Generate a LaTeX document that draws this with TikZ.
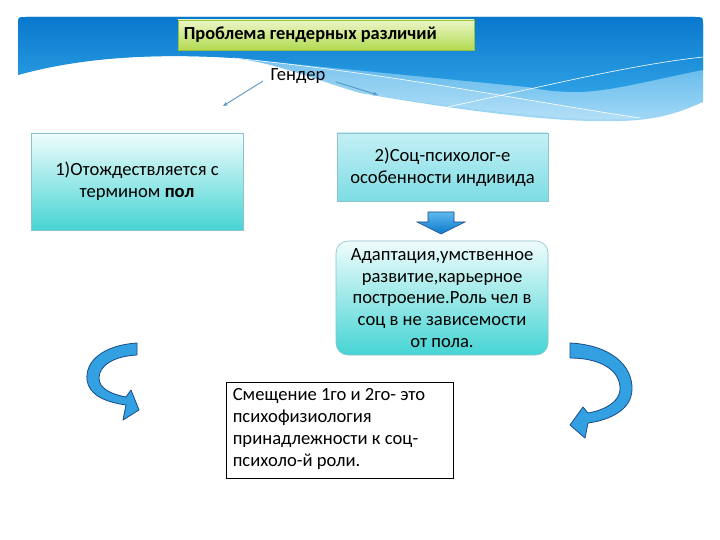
\documentclass[tikz,border=0pt]{standalone}
\usepackage{fontspec}
\setmainfont{Carlito}
\usetikzlibrary{arrows.meta}
\definecolor{bdark}{RGB}{10,120,205}
\definecolor{bmid}{RGB}{45,160,228}
\definecolor{blight}{RGB}{95,185,238}
\definecolor{blow}{RGB}{165,218,246}
\definecolor{gtop}{RGB}{236,246,200}
\definecolor{gbot}{RGB}{178,218,80}
\definecolor{gline}{RGB}{150,195,60}
\definecolor{turq}{RGB}{70,212,212}
\definecolor{turqlight}{RGB}{240,252,252}
\definecolor{cyantop}{RGB}{195,240,245}
\definecolor{cyanbot}{RGB}{125,220,228}
\definecolor{boxline}{RGB}{140,195,205}
\definecolor{arrfill}{RGB}{50,160,225}
\definecolor{arrline}{RGB}{25,75,135}
\definecolor{thinarr}{RGB}{85,150,195}
\begin{document}
\begin{tikzpicture}[x=1pt,y=-1pt,
  txt/.style={font=\fontsize{18.6}{21.7}\selectfont},
  tbox/.style={txt,draw=boxline,line width=0.6pt,align=center,inner sep=4pt},
  ribbon/.style={fill=arrfill,draw=arrline,line width=0.8pt,line join=round},
  thinarrow/.style={draw=thinarr,line width=0.9pt,-{Stealth[length=5pt,width=4pt]}}
]
\useasboundingbox (0,0) rectangle (720,540);
\fill[white] (0,0) rectangle (720,540);
% banner light part
\shade[top color=bmid,bottom color=blow]
  (18,75) -- (18,25) .. controls (18,17) .. (26,17) -- (695,17) .. controls (703,17) .. (703,25)
  -- (703,102) .. controls (680,112) and (660,120) .. (620,121)
  .. controls (560,123) and (470,112) .. (360,93)
  .. controls (300,75) and (270,60) .. (220,57)
  .. controls (140,53) and (60,60) .. (18,75) -- cycle;
% lighter band under white line
\fill[white,opacity=0.18]
  (233,58) .. controls (400,75) and (520,100) .. (640,118)
  .. controls (600,122) and (520,118) .. (360,93)
  .. controls (300,75) and (270,61) .. (233,58) -- cycle;
% dark part
\shade[top color=bdark,bottom color=bmid]
  (18,75) -- (18,25) .. controls (18,17) .. (26,17) -- (695,17) .. controls (703,17) .. (703,25)
  -- (703,70) .. controls (660,78) and (610,92) .. (577,92)
  .. controls (550,92) and (540,89) .. (527,87)
  -- (233,58) .. controls (150,53) and (80,58) .. (18,75) -- cycle;
% white lines
\draw[white,line width=0.6pt] (233,58) .. controls (400,75) and (520,100) .. (640,118);
\draw[white,line width=0.6pt] (443,108) .. controls (550,85) and (630,65) .. (703,57);

% title
\node[draw=gline,line width=0.8pt,top color=gtop,bottom color=gbot,
      minimum width=296pt,minimum height=30pt] (title) at (326,35) {};
\node[anchor=west,inner sep=0pt,font=\fontsize{18.4}{21}\selectfont\bfseries] (titletext)
  at ([xshift=6pt]title.west) {Проблема гендерных различий};

\node[txt,inner sep=1pt] (gender) at (298,76) {Гендер};
\coordinate (gls) at (263,81);
\coordinate (gle) at (223,106);
\coordinate (grs) at (336,82);
\coordinate (gre) at (378,95);
\draw[thinarrow] (gls) -- (gle);
\draw[thinarrow] (grs) -- (gre);

% boxes
\node[tbox,top color=turqlight,bottom color=turq,minimum width=212pt,minimum height=97pt] (b1)
  at (137,181.5) {1)Отождествляется с\\термином \textbf{пол}};
\node[tbox,top color=cyantop,bottom color=cyanbot,minimum width=211pt,minimum height=68pt] (b2)
  at (442.5,167) {2)Соц-психолог-е\\особенности индивида};
\node[tbox,top color=turqlight,bottom color=turq,rounded corners=12pt,minimum width=212pt,minimum height=114pt] (b3)
  at (442,298) {Адаптация,умственное\\развитие,карьерное\\построение.Роль чел в\\соц в не зависемости\\от пола.};
\node[draw=black,line width=0.8pt,fill=white,minimum width=227pt,minimum height=96pt] (b4)
  at (339.5,430) {};
\node[txt,anchor=west,inner sep=0pt,align=left] (b4text) at ([xshift=7pt,yshift=1pt]b4.west)
  {Смещение 1го и 2го- это\\психофизиология\\принадлежности к соц-\\психоло-й роли.};

% down block arrow
\shade[top color=blight,bottom color=bdark,draw=arrline,line width=0.6pt]
  (428,212) -- (454,212) -- (454,222) -- (465,222) -- (441,234) -- (417,222) -- (428,222) -- cycle;

% left curved ribbon arrow
\path[ribbon] (137,343) .. controls (105,345) and (85,360) .. (87,380)
  .. controls (89,395) and (105,402) .. (126,405)
  -- (123,420) -- (139,410) -- (131,390) -- (126,397)
  .. controls (110,394) and (99,388) .. (99,378)
  .. controls (99,365) and (115,356) .. (137,355) -- cycle;

% right curved ribbon arrow
\path[ribbon] (570,343) .. controls (610,345) and (633,365) .. (632,390)
  .. controls (631,410) and (610,420) .. (588,423)
  -- (585,438) -- (570,425) -- (583,407) -- (588,413)
  .. controls (605,410) and (619,402) .. (620,390)
  .. controls (621,370) and (600,358) .. (570,358) -- cycle;
\end{tikzpicture}
\end{document}
